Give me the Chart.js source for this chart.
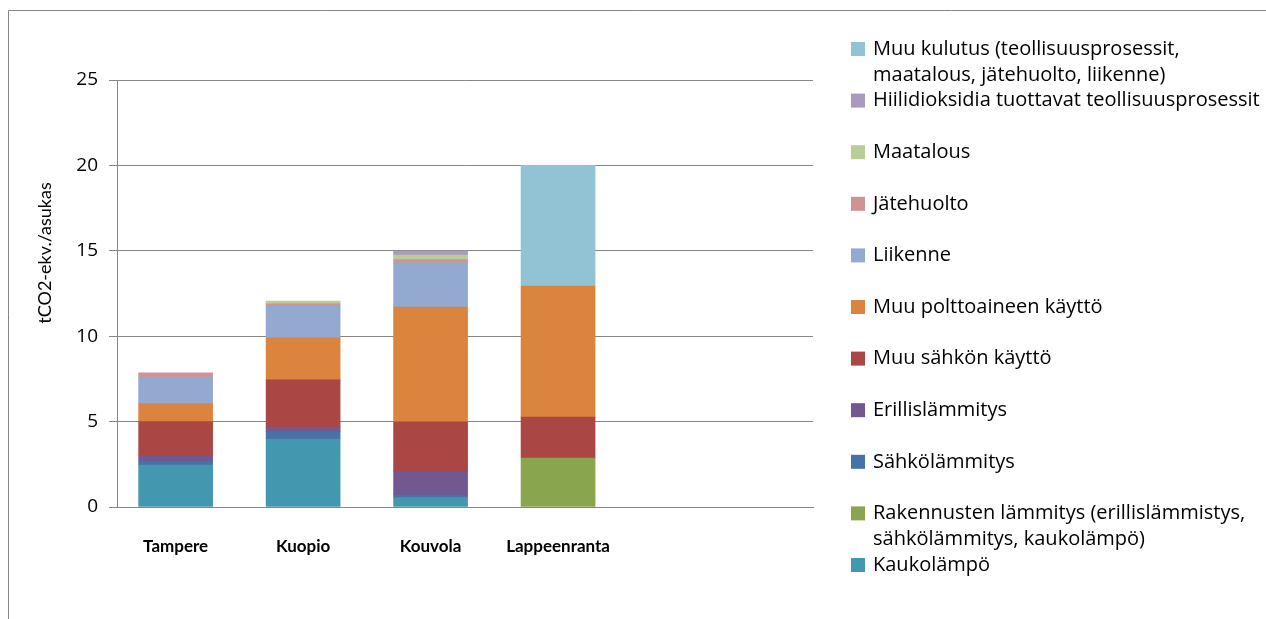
<!DOCTYPE html>
<html>
<head>
<meta charset="utf-8">
<script src="https://cdn.jsdelivr.net/npm/chart.js@4/dist/chart.umd.min.js"></script>
<style>
  html, body { margin: 0; padding: 0; background: #ffffff; }
  #wrap { width: 1266px; height: 619px; position: relative; }
</style>
</head>
<body>
<div id="wrap"><canvas id="c" width="1266" height="619"></canvas></div>
<script>
// ---- Data ----
const categories = ['Tampere', 'Kuopio', 'Kouvola', 'Lappeenranta'];
const yTicks = [0, 5, 10, 15, 20, 25];
const yTitle = 'tCO2-ekv./asukas';

const kaukolampo          = [2.46, 3.98, 0.55, null];
const rakennustenLammitys = [null, null, null, 2.87];
const sahkolammitys       = [0.23, 0.43, 0.15, null];
const erillislammitys     = [0.34, 0.27, 1.40, null];
const muuSahkonKaytto     = [1.97, 2.76, 2.88, 2.40];
const muuPolttoaine       = [1.05, 2.47, 6.73, 7.67];
const liikenne            = [1.56, 1.86, 2.58, null];
const jatehuolto          = [0.24, 0.13, 0.19, null];
const maatalous           = [null, 0.16, 0.27, null];
const hiilidioksidi       = [null, null, 0.24, null];
const muuKulutus          = [null, null, null, 7.06];

const seriesNames = [
  'Kaukolämpö',
  'Rakennusten lämmitys (erillislämmistys,\nsähkölämmitys, kaukolämpö)',
  'Sähkölämmitys',
  'Erillislämmitys',
  'Muu sähkön käyttö',
  'Muu polttoaineen käyttö',
  'Liikenne',
  'Jätehuolto',
  'Maatalous',
  'Hiilidioksidia tuottavat teollisuusprosessit',
  'Muu kulutus (teollisuusprosessit,\nmaatalous, jätehuolto, liikenne)'
];
const seriesValues = [kaukolampo, rakennustenLammitys, sahkolammitys, erillislammitys,
  muuSahkonKaytto, muuPolttoaine, liikenne, jatehuolto, maatalous, hiilidioksidi, muuKulutus];
const seriesColors = ['#4398B0', '#89A54E', '#4572A7', '#71588F', '#AA4643', '#DB843D',
  '#93A9CF', '#D19392', '#B9CD96', '#A99BBD', '#92C3D4'];

const FONT = '"Open Sans", Lato, sans-serif';
const TITLE_FONT = 'Lato, "Open Sans", sans-serif';
const XFONT = 'Lato, sans-serif';
const GRID = '#878787';

const datasets = seriesNames.map((name, s) => ({
  label: name,
  data: categories.map((c, i) => ({ x: i, y: seriesValues[s][i] })),
  backgroundColor: seriesColors[s],
  borderWidth: 0,
  barThickness: 74
}));

// Frame, y title and custom legend
const decorPlugin = {
  id: 'decor',
  afterDraw(chart) {
    const ctx = chart.ctx;
    ctx.save();
    ctx.strokeStyle = GRID;
    ctx.lineWidth = 1;
    ctx.beginPath();
    ctx.moveTo(8.5, 619);
    ctx.lineTo(8.5, 10.5);
    ctx.lineTo(1266, 10.5);
    ctx.stroke();

    ctx.fillStyle = '#000';
    ctx.font = '18px ' + TITLE_FONT;
    ctx.textAlign = 'center';
    ctx.textBaseline = 'middle';
    ctx.translate(45, 253);
    ctx.rotate(-Math.PI / 2);
    ctx.fillText(yTitle, 0, 0);
    ctx.restore();

    ctx.save();
    ctx.font = '20px ' + FONT;
    ctx.textAlign = 'left';
    ctx.textBaseline = 'middle';
    const ds = chart.data.datasets;
    for (let k = 0; k < ds.length; k++) {
      const d = ds[ds.length - 1 - k];
      const y = 49 + k * 51.6;
      ctx.fillStyle = d.backgroundColor;
      ctx.fillRect(851, y - 7, 14, 14);
      ctx.fillStyle = '#000';
      const lines = d.label.split('\n');
      lines.forEach((ln, j) => ctx.fillText(ln, 873, y + j * 26));
    }
    ctx.restore();
  }
};

new Chart(document.getElementById('c'), {
  type: 'bar',
  data: { datasets },
  options: {
    responsive: false,
    animation: false,
    devicePixelRatio: 1,
    layout: { padding: { top: 80, right: 453, left: 0, bottom: 0 } },
    plugins: { legend: { display: false }, tooltip: { enabled: false } },
    scales: {
      x: {
        type: 'linear',
        stacked: true,
        offset: false,
        min: -0.46,
        max: 5.0,
        afterFit: (s) => { s.height = 112; },
        afterBuildTicks: (s) => { s.ticks = categories.map((c, i) => ({ value: i })); },
        grid: { display: false, offset: false },
        border: { display: true, color: GRID, width: 1 },
        ticks: {
          padding: 21,
          color: '#000',
          font: { family: XFONT, size: 17, weight: 'bold' },
          autoSkip: false,
          maxRotation: 0,
          callback: (v) => categories[v]
        }
      },
      y: {
        stacked: true,
        min: yTicks[0],
        max: yTicks[yTicks.length - 1],
        afterFit: (s) => { s.width = 117; },
        afterBuildTicks: (s) => { s.ticks = yTicks.map(v => ({ value: v })); },
        grid: { color: GRID, lineWidth: 1, tickLength: 8, drawTicks: true },
        border: { display: true, color: GRID, width: 1 },
        ticks: {
          padding: 11,
          color: '#000',
          font: { family: FONT, size: 19 }
        }
      }
    }
  },
  plugins: [decorPlugin]
});
</script>
</body>
</html>
